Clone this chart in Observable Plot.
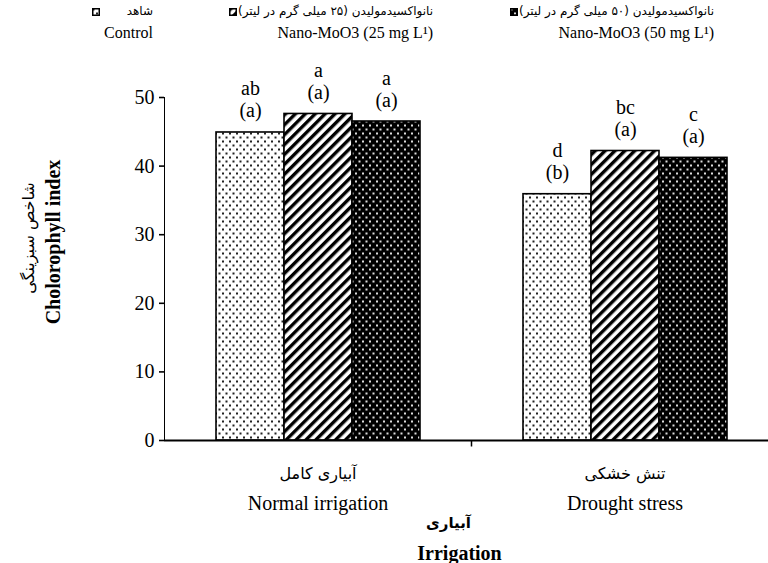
<!DOCTYPE html>
<html><head><meta charset="utf-8">
<script src="https://cdn.jsdelivr.net/npm/d3@7"></script>
<script src="https://cdn.jsdelivr.net/npm/@observablehq/plot@0.6"></script>
<style>
body{margin:0;background:#fff;}
#wrap{position:relative;width:768px;height:563px;overflow:hidden;font-family:"Liberation Serif",serif;color:#000;}
.leg{position:absolute;white-space:nowrap;line-height:1;}
.fa{font-family:"DejaVu Sans",sans-serif;font-size:12px;direction:rtl;unicode-bidi:isolate;}
.en{font-family:"Liberation Serif",serif;font-size:16px;}
.sw{position:absolute;width:8px;height:8px;}
#chart svg [aria-label^="y-axis"] path, #chart svg [aria-label^="y-axis"] line{stroke-width:1.6;}
</style>
</head><body>
<svg width="0" height="0" style="position:absolute">
<defs>
<pattern id="pCtrl" patternUnits="userSpaceOnUse" width="7" height="8">
<rect width="7" height="8" fill="#fff"/>
<rect x="0.5" y="0.5" width="2" height="2" fill="#222"/>
<rect x="4" y="4.5" width="2" height="2" fill="#222"/>
</pattern>
<pattern id="pN25" patternUnits="userSpaceOnUse" width="7" height="7" patternTransform="rotate(45)">
<rect width="7" height="7" fill="#fff"/>
<rect x="0" y="0" width="3.4" height="7" fill="#000"/>
</pattern>
<pattern id="pN50" patternUnits="userSpaceOnUse" width="7" height="8">
<rect width="7" height="8" fill="#000"/>
<rect x="0.5" y="0.5" width="2" height="2" fill="#ddd"/>
<rect x="4" y="4.5" width="2" height="2" fill="#ddd"/>
</pattern>
</defs>
</svg>
<div id="wrap"><div id="chart"></div><div id="legend"></div></div>
<script>
// ---- data ----
const groups = ["Normal irrigation", "Drought stress"];
const groupsFa = ["آبیاری کامل", "تنش خشکی"];
const treatments = ["Control", "Nano-MoO3 (25 mg L¹)", "Nano-MoO3 (50 mg L¹)"];
const treatmentsFa = ["شاهد", "نانواکسیدمولیدن (۲۵ میلی گرم در لیتر)", "نانواکسیدمولیدن (۵۰ میلی گرم در لیتر)"];
const normalValues = [44.9, 47.6, 46.5];
const droughtValues = [35.9, 42.2, 41.2];
const normalLetters = ["ab", "a", "a"];
const droughtLetters = ["d", "bc", "c"];
const normalGroupLetters = ["(a)", "(a)", "(a)"];
const droughtGroupLetters = ["(b)", "(a)", "(a)"];
const yTicks = [0, 10, 20, 30, 40, 50];
const yTitleEn = "Cholorophyll index";
const yTitleFa = "شاخص سبزینگی";
const xTitleEn = "Irrigation";
const xTitleFa = "آبیاری";
const patternUrls = ["url(#pCtrl)", "url(#pN25)", "url(#pN50)"];

// ---- table ----
const rows = [];
treatments.forEach((t, i) => {
  rows.push({group: groups[0], treatment: t, value: normalValues[i], label: normalLetters[i] + "\n" + normalGroupLetters[i]});
});
treatments.forEach((t, i) => {
  rows.push({group: groups[1], treatment: t, value: droughtValues[i], label: droughtLetters[i] + "\n" + droughtGroupLetters[i]});
});
const groupRows = groups.map((g, i) => ({group: g, fa: groupsFa[i]}));
const first = [{group: groups[0]}];

const tickSymbol = {draw(ctx) { ctx.moveTo(0, 0); ctx.lineTo(0, 6); }};

const chart = Plot.plot({
  width: 768, height: 563,
  marginLeft: 163, marginRight: -10, marginTop: 97, marginBottom: 123,
  style: {fontFamily: "Liberation Serif", fontSize: "20px", background: "white", color: "black", overflow: "hidden"},
  fx: {domain: groups, padding: 0, axis: null},
  x: {domain: treatments, paddingInner: 0, paddingOuter: 0.75, axis: null},
  y: {domain: [0, 50], ticks: yTicks, tickSize: 5, tickPadding: 5, line: true, label: null},
  color: {domain: treatments, range: patternUrls},
  marks: [
    Plot.barY(rows, {fx: "group", x: "treatment", y: "value", fill: "treatment", stroke: "black", strokeWidth: 1.6}),
    Plot.ruleY([0], {stroke: "black", strokeWidth: 2}),
    Plot.dot(first, {fx: "group", frameAnchor: "bottom-right", symbol: tickSymbol, stroke: "black", strokeWidth: 1.5, fill: "none"}),
    Plot.text(rows, {fx: "group", x: "treatment", y: "value", text: "label", lineAnchor: "bottom", lineHeight: 1.1, dy: -15, fontSize: 20}),
    Plot.text(groupRows, {fx: "group", text: "fa", frameAnchor: "bottom", lineAnchor: "middle", textAnchor: "middle", dy: 33, fontFamily: "DejaVu Sans", fontSize: 16}),
    Plot.text(groupRows, {fx: "group", text: "group", frameAnchor: "bottom", lineAnchor: "middle", textAnchor: "middle", dy: 63, fontSize: 20}),
    Plot.text(first, {fx: "group", text: () => yTitleEn, frameAnchor: "left", textAnchor: "middle", lineAnchor: "middle", rotate: -90, dx: -111, dy: -27, fontWeight: "bold", fontSize: 20}),
    Plot.text(first, {fx: "group", text: () => yTitleFa, frameAnchor: "left", textAnchor: "middle", lineAnchor: "middle", rotate: -90, dx: -136, dy: -31, fontFamily: "DejaVu Sans", fontSize: 16}),
    Plot.text(first, {fx: "group", text: () => xTitleFa, frameAnchor: "bottom-right", textAnchor: "middle", lineAnchor: "middle", dx: -23, dy: 83, fontFamily: "DejaVu Sans", fontWeight: "bold", fontSize: 15}),
    Plot.text(first, {fx: "group", text: () => xTitleEn, frameAnchor: "bottom-right", textAnchor: "middle", lineAnchor: "middle", dx: -12, dy: 113, fontWeight: "bold", fontSize: 20})
  ]
});
document.getElementById("chart").appendChild(chart);

// ---- legend ----
const legend = document.getElementById("legend");
const swatchX = [92, 229, 510];
const rightEdge = [153, 433, 714];
treatments.forEach((t, i) => {
  const sw = document.createElementNS("http://www.w3.org/2000/svg", "svg");
  sw.setAttribute("width", 8); sw.setAttribute("height", 8);
  sw.setAttribute("class", "sw");
  sw.style.left = swatchX[i] + "px"; sw.style.top = "8px";
  const r = document.createElementNS("http://www.w3.org/2000/svg", "rect");
  r.setAttribute("x", 0.75); r.setAttribute("y", 0.75); r.setAttribute("width", 6.5); r.setAttribute("height", 6.5);
  r.setAttribute("fill", patternUrls[i]); r.setAttribute("stroke", "black"); r.setAttribute("stroke-width", 1.5);
  sw.appendChild(r);
  legend.appendChild(sw);
  const fa = document.createElement("div");
  fa.className = "leg fa"; fa.textContent = treatmentsFa[i];
  fa.style.right = (768 - rightEdge[i]) + "px"; fa.style.top = "5px";
  legend.appendChild(fa);
  const en = document.createElement("div");
  en.className = "leg en"; en.textContent = t;
  en.style.right = (768 - rightEdge[i]) + "px"; en.style.top = "25px";
  legend.appendChild(en);
});
</script>
</body></html>
